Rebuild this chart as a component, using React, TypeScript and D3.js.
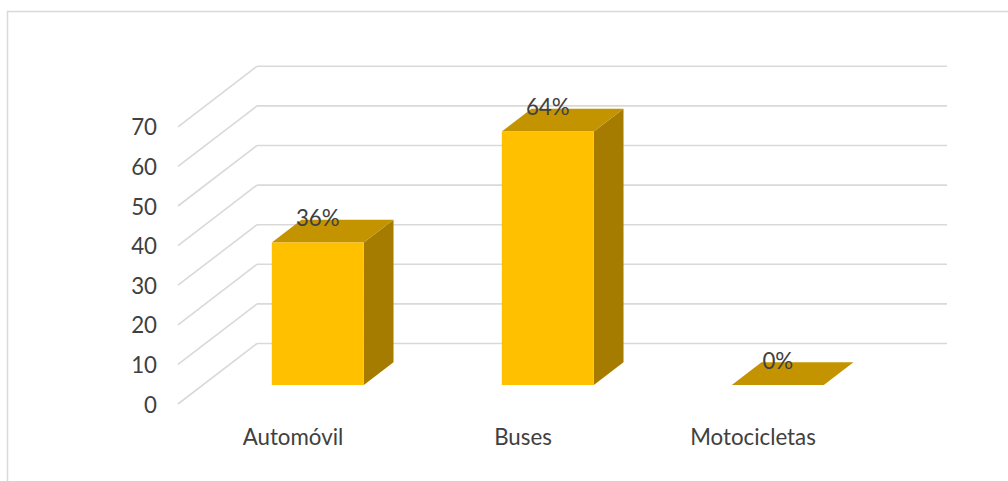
import React from "react";
import * as d3 from "d3";

const categories: string[] = ["Automóvil", "Buses", "Motocicletas"];
const values: number[] = [36, 64, 0];
const valueLabels: string[] = ["36%", "64%", "0%"];
const yTicks: number[] = [0, 10, 20, 30, 40, 50, 60, 70];

const W = 1008;
const H = 481;

// oblique 3D projection
const DEPTH_DX = 79;
const DEPTH_DY = -60.5;
const BAR_F0 = 0.314;
const BAR_F1 = 0.69;

const FRONT_LEFT = 178;
const FRONT_RIGHT = 868;

const COLOR_FRONT = "#FFC000";
const COLOR_TOP = "#C39300";
const COLOR_SIDE = "#A57C00";
const GRID = "#D9D9D9";
const TEXT = "#404040";
const FONT = "Lato, 'Open Sans', sans-serif";
const FS = 22.3;

export default function App() {
  const y = d3.scaleLinear().domain([0, 70]).range([404, 404 - 70 * 3.96]);
  const x = d3
    .scaleBand<string>()
    .domain(categories)
    .range([FRONT_LEFT, FRONT_RIGHT])
    .paddingInner(0.6)
    .paddingOuter(0.3);
  const xCat = d3
    .scaleBand<string>()
    .domain(categories)
    .range([FRONT_LEFT, FRONT_RIGHT])
    .padding(0);

  const off = (f: number) => [DEPTH_DX * f, DEPTH_DY * f];
  const pts = (arr: number[][]) => arr.map((p) => p.join(",")).join(" ");

  const [fx0, fy0] = off(BAR_F0);
  const [fx1, fy1] = off(BAR_F1);

  return (
    <svg
      width={W}
      height={H}
      style={{ position: "absolute", left: 0, top: 0, background: "#fff" }}
    >
      <rect x={7.5} y={11.5} width={1010} height={480} fill="none" stroke={GRID} strokeWidth={1.5} />

      {/* gridlines: side wall diagonals and back wall horizontals */}
      {yTicks.map((t) => {
        const yf = y(t);
        const yb = yf + DEPTH_DY;
        return (
          <g key={t}>
            <line x1={FRONT_LEFT} y1={yf} x2={FRONT_LEFT + DEPTH_DX} y2={yb} stroke={GRID} strokeWidth={1.6} />
            <line x1={FRONT_LEFT + DEPTH_DX} y1={yb} x2={FRONT_RIGHT + DEPTH_DX} y2={yb} stroke={GRID} strokeWidth={1.6} />
            <text
              x={157}
              y={yf}
              textAnchor="end"
              dominantBaseline="central"
              fontFamily={FONT}
              fontSize={FS}
              fill={TEXT}
            >
              {t}
            </text>
          </g>
        );
      })}

      {/* bars */}
      {categories.map((c, i) => {
        const v = values[i];
        const xl = (x(c) as number) + fx0;
        const xr = xl + x.bandwidth();
        const yb = y(0) + fy0;
        const yt = y(v) + fy0;
        const ddx = fx1 - fx0;
        const ddy = fy1 - fy0;
        const front = [[xl, yb], [xr, yb], [xr, yt], [xl, yt]];
        const top = [[xl, yt], [xr, yt], [xr + ddx, yt + ddy], [xl + ddx, yt + ddy]];
        const side = [[xr, yb], [xr + ddx, yb + ddy], [xr + ddx, yt + ddy], [xr, yt]];
        return (
          <g key={c}>
            {v > 0 && <polygon points={pts(side)} fill={COLOR_SIDE} />}
            <polygon points={pts(top)} fill={COLOR_TOP} />
            {v > 0 && <polygon points={pts(front)} fill={COLOR_FRONT} />}
            <text
              x={(xl + xr) / 2}
              y={yt + ddy - 2}
              textAnchor="middle"
              dominantBaseline="central"
              fontFamily={FONT}
              fontSize={FS}
              fill={TEXT}
            >
              {valueLabels[i]}
            </text>
          </g>
        );
      })}

      {/* category labels */}
      {categories.map((c) => (
        <text
          key={c}
          x={(xCat(c) as number) + xCat.bandwidth() / 2}
          y={436}
          textAnchor="middle"
          dominantBaseline="central"
          fontFamily={FONT}
          fontSize={FS}
          fill={TEXT}
        >
          {c}
        </text>
      ))}
    </svg>
  );
}
